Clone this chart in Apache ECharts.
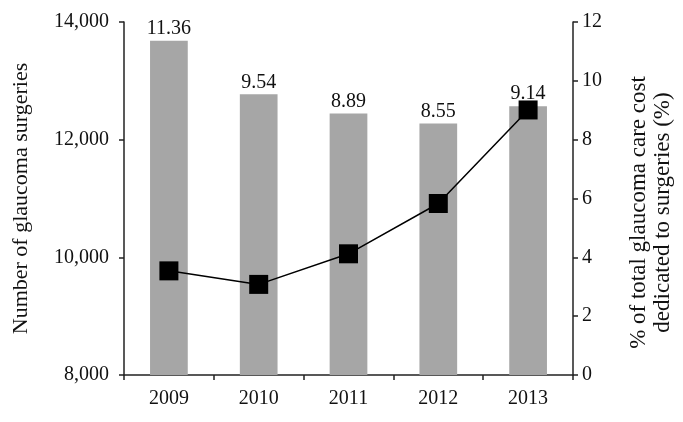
<!DOCTYPE html>
<html>
<head>
<meta charset="utf-8">
<script src="https://cdn.jsdelivr.net/npm/echarts@6/dist/echarts.min.js"></script>
<style>
  html, body { margin: 0; padding: 0; background: #fff; }
  #chart { width: 683px; height: 422px; }
</style>
</head>
<body>
<div id="chart"></div>
<script>
const years = ['2009', '2010', '2011', '2012', '2013']
const costShare = [11.36, 9.54, 8.89, 8.55, 9.14]
const surgeries = [9770, 9540, 10060, 10915, 12505]

const chart = echarts.init(document.getElementById('chart'))
const font = 'Liberation Serif'

const axisLine = { show: true, lineStyle: { color: '#222', width: 1.5 } }
const axisTick = { show: true, inside: false, length: 5, lineStyle: { color: '#222', width: 1.5 } }

chart.setOption({
  animation: false,
  textStyle: { fontFamily: font },
  grid: { left: 124, right: 110, top: 22, bottom: 47, outerBoundsMode: 'none', containLabel: false },
  xAxis: {
    type: 'category',
    data: years,
    axisLine: axisLine,
    axisTick: axisTick,
    axisLabel: { color: '#111', fontSize: 20, fontFamily: font, margin: 14 }
  },
  yAxis: [
    {
      type: 'value',
      min: 8000,
      max: 14000,
      interval: 2000,
      position: 'left',
      name: 'Number of glaucoma surgeries',
      nameLocation: 'middle',
      nameGap: 92,
      nameTextStyle: { color: '#111', fontSize: 22, fontFamily: font },
      axisLine: axisLine,
      axisTick: axisTick,
      splitLine: { show: false },
      axisLabel: {
        color: '#111',
        fontSize: 20,
        fontFamily: font,
        margin: 15,
        formatter: (v) => v.toLocaleString('en-US')
      }
    },
    {
      type: 'value',
      min: 0,
      max: 12,
      interval: 2,
      position: 'right',
      name: '% of total glaucoma care cost\ndedicated to surgeries (%)',
      nameLocation: 'middle',
      nameRotate: 90,
      nameGap: 54,
      nameTextStyle: { color: '#111', fontSize: 23, fontFamily: font, lineHeight: 24, padding: [0, 28, 0, 0] },
      axisLine: axisLine,
      axisTick: axisTick,
      splitLine: { show: false },
      axisLabel: { color: '#111', fontSize: 20, fontFamily: font, margin: 9 }
    }
  ],
  series: [
    {
      name: 'Cost share',
      type: 'bar',
      yAxisIndex: 1,
      data: costShare,
      barWidth: '42%',
      itemStyle: { color: '#a6a6a6' },
      label: {
        show: true,
        position: 'top',
        distance: 2,
        color: '#111',
        fontSize: 20,
        fontFamily: font,
        formatter: (p) => p.value.toFixed(2)
      }
    },
    {
      name: 'Surgeries',
      type: 'line',
      yAxisIndex: 0,
      data: surgeries,
      symbol: 'rect',
      symbolSize: 19,
      z: 5,
      itemStyle: { color: '#000' },
      lineStyle: { color: '#000', width: 1.5 }
    }
  ]
})
</script>
</body>
</html>
